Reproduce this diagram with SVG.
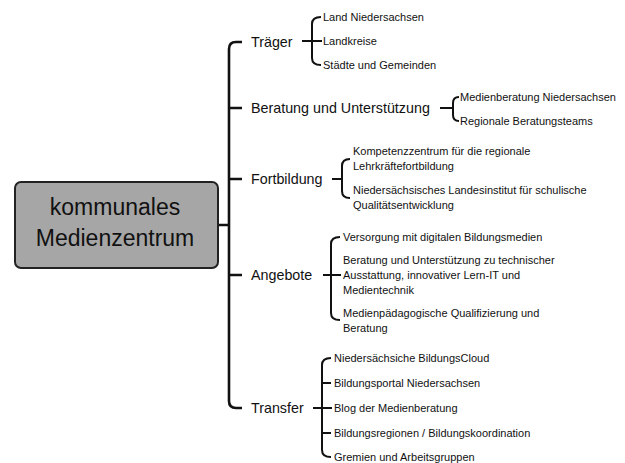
<svg xmlns="http://www.w3.org/2000/svg" width="625" height="463" viewBox="0 0 625 463">
<style>
text{font-family:"Liberation Sans",Arial,sans-serif;fill:#111}
.root{font-size:23px}
.l1{font-size:14.3px}
.l2{font-size:11px}
.trunk{fill:none;stroke:#111;stroke-width:2.6;stroke-linecap:butt}
.br{fill:none;stroke:#111;stroke-width:2;stroke-linecap:butt}
</style>
<rect width="625" height="463" fill="#fff"/>
<g id="connectors">
  <path class="trunk" d="M218,225 H229 M242,42 H236 Q229,42 229,49 V401 Q229,408 236,408 H242 M229,108 H242 M229,179 H242 M229,275 H242"/>
  <path class="br" d="M302,41 H322 M321,17 Q312,17 312,24 V58 Q312,65 321,65"/>
  <path class="br" d="M440,108 H453 M459,97 Q453,97 453,103 V115 Q453,121 459,121"/>
  <path class="br" d="M332,179 H342 M350,159 Q342,159 342,166 V191 Q342,198 350,198"/>
  <path class="br" d="M323,275 H341 M340,237 Q331,237 331,244 V313 Q331,320 340,320"/>
  <path class="br" d="M313,408 H332 M331,358 Q322,358 322,365 V450 Q322,457 331,457 M322,383 H331 M322,433 H331"/>
</g>
<g id="root">
  <rect x="15" y="182" width="203" height="86" rx="6" fill="#a6a6a6" stroke="#222" stroke-width="2"/>
  <text class="root" x="115" y="215" text-anchor="middle">kommunales</text>
  <text class="root" x="115" y="246" text-anchor="middle">Medienzentrum</text>
</g>
<g id="traeger">
  <text class="l1" x="251" y="47">Träger</text>
</g>
<g id="traeger-land"><text class="l2" x="323" y="21">Land Niedersachsen</text></g>
<g id="traeger-landkreise"><text class="l2" x="323" y="45">Landkreise</text></g>
<g id="traeger-staedte"><text class="l2" x="323" y="69">Städte und Gemeinden</text></g>
<g id="beratung">
  <text class="l1" x="251" y="113">Beratung und Unterstützung</text>
</g>
<g id="beratung-nds"><text class="l2" x="460" y="101">Medienberatung Niedersachsen</text></g>
<g id="beratung-teams"><text class="l2" x="460" y="125">Regionale Beratungsteams</text></g>
<g id="fortbildung">
  <text class="l1" x="251" y="184">Fortbildung</text>
</g>
<g id="fortbildung-kompetenz"><text class="l2" x="353" y="155">Kompetenzzentrum für die regionale</text><text class="l2" x="353" y="170">Lehrkräftefortbildung</text></g>
<g id="fortbildung-nlq"><text class="l2" x="353" y="194">Niedersächsisches Landesinstitut für schulische</text><text class="l2" x="353" y="209">Qualitätsentwicklung</text></g>
<g id="angebote">
  <text class="l1" x="251" y="280">Angebote</text>
</g>
<g id="angebote-versorgung"><text class="l2" x="343" y="241">Versorgung mit digitalen Bildungsmedien</text></g>
<g id="angebote-beratung"><text class="l2" x="343" y="264">Beratung und Unterstützung zu technischer</text><text class="l2" x="343" y="279">Ausstattung, innovativer Lern-IT und</text><text class="l2" x="343" y="294">Medientechnik</text></g>
<g id="angebote-quali"><text class="l2" x="343" y="317">Medienpädagogische Qualifizierung und</text><text class="l2" x="343" y="332">Beratung</text></g>
<g id="transfer">
  <text class="l1" x="251" y="413">Transfer</text>
</g>
<g id="transfer-cloud"><text class="l2" x="334" y="362">Niedersächsiche BildungsCloud</text></g>
<g id="transfer-portal"><text class="l2" x="334" y="387">Bildungsportal Niedersachsen</text></g>
<g id="transfer-blog"><text class="l2" x="334" y="412">Blog der Medienberatung</text></g>
<g id="transfer-regionen"><text class="l2" x="334" y="437">Bildungsregionen / Bildungskoordination</text></g>
<g id="transfer-gremien"><text class="l2" x="334" y="461">Gremien und Arbeitsgruppen</text></g>
</svg>
